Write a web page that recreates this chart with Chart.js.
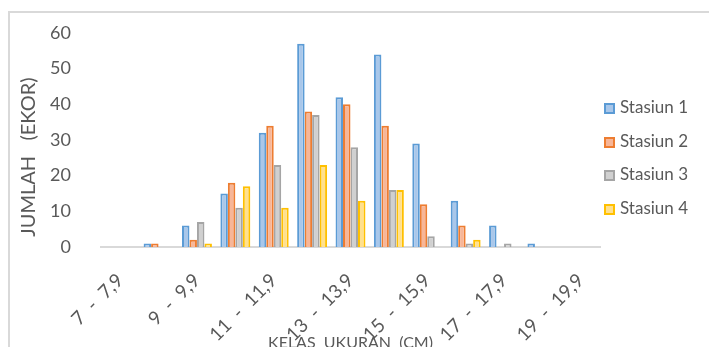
<!DOCTYPE html>
<html lang="id">
  <head>
    <meta charset="UTF-8" />
    <title>Kelas Ukuran</title>
    <script src="https://cdn.jsdelivr.net/npm/chart.js"></script>
    <style>
      body {
        margin: 0;
        background: #fff;
        font-family: Lato, "Open Sans", sans-serif;
      }
      #wrap {
        position: relative;
        width: 709px;
        height: 347px;
        overflow: hidden;
      }
      #frame {
        position: absolute;
        left: 8px;
        top: 11px;
        width: 720px;
        height: 360px;
        border-top: 2px solid #d9d9d9;
        border-left: 2px solid #d9d9d9;
      }
      #c {
        position: absolute;
        left: 0;
        top: 0;
      }
      .lg {
        position: absolute;
        left: 604px;
        height: 18px;
        line-height: 18px;
        font-size: 17px;
        color: #595959;
        white-space: nowrap;
      }
      .lg span {
        display: inline-block;
        width: 7px;
        height: 7px;
        border: 2px solid;
        margin-right: 5px;
        vertical-align: -1px;
      }
    </style>
  </head>
  <body>
    <div id="wrap">
      <div id="frame"></div>
      <canvas id="c" width="709" height="360"></canvas>
      <div id="legend"></div>
    </div>

    <script>
      const categories = [
        "7 - 7,9", "8 - 8,9", "9 - 9,9", "10 - 10,9", "11 - 11,9",
        "12 - 12,9", "13 - 13,9", "14 - 14,9", "15 - 15,9", "16 - 16,9",
        "17 - 17,9", "18 - 18,9", "19 - 19,9"
      ];
      const stasiun1 = [null, 1, 6, 15, 32, 57, 42, 54, 29, 13, 6, 1, null];
      const stasiun2 = [null, 1, 2, 18, 34, 38, 40, 34, 12, 6, null, null, null];
      const stasiun3 = [null, null, 7, 11, 23, 37, 28, 16, 3, 1, 1, null, null];
      const stasiun4 = [null, null, 1, 17, 11, 23, 13, 16, null, 2, null, null, null];
      const seriesNames = ["Stasiun 1", "Stasiun 2", "Stasiun 3", "Stasiun 4"];
      const yTicks = [0, 10, 20, 30, 40, 50, 60];

      const fills = ["#a9c7ea", "#f7b698", "#d0d0d0", "#ffe08e"];
      const edges = ["#5b9bd5", "#ed7d31", "#a5a5a5", "#ffc000"];
      const allValues = [stasiun1, stasiun2, stasiun3, stasiun4];

      const ctx = document.getElementById("c").getContext("2d");
      new Chart(ctx, {
        type: "bar",
        data: {
          labels: categories,
          datasets: allValues.map((vals, i) => ({
            label: seriesNames[i],
            data: vals,
            backgroundColor: fills[i],
            borderColor: edges[i],
            borderWidth: 2,
            categoryPercentage: 0.78,
            barPercentage: 1,
          })),
        },
        options: {
          responsive: false,
          animation: false,
          devicePixelRatio: 1,
          layout: { padding: { left: 0, right: 109, top: 33, bottom: 0 } },
          plugins: { legend: { display: false }, tooltip: { enabled: false } },
          scales: {
            x: {
              grid: { display: false },
              border: { display: true, color: "#d9d9d9", width: 2 },
              ticks: {
                autoSkip: false,
                minRotation: 45,
                maxRotation: 45,
                padding: 14,
                color: "#595959",
                font: { family: "Lato", size: 19 },
                callback: function (v, i) {
                  // wide spacing round the dash, as in the original
                  return i % 2 === 0 ? categories[i].replace(" - ", "  -  ") : "";
                },
              },
              title: {
                display: true,
                text: "KELAS  UKURAN  (CM)",
                color: "#595959",
                font: { family: "Lato", size: 16 },
                padding: { top: 0, bottom: 8 },
              },
              afterFit: function (s) {
                s.height = 113;
              },
            },
            y: {
              min: 0,
              max: 60,
              grid: { display: false },
              border: { display: false },
              afterBuildTicks: function (s) {
                s.ticks = yTicks.map((v) => ({ value: v }));
              },
              ticks: {
                padding: 22,
                color: "#595959",
                font: { family: "Lato", size: 18 },
              },
              title: {
                display: true,
                text: "  JUMLAH   (EKOR)",
                align: "start",
                color: "#595959",
                font: { family: "Lato", size: 20 },
                padding: { top: 17, bottom: 0 },
              },
              afterFit: function (s) {
                s.width = 101;
              },
            },
          },
        },
      });

      const legend = document.getElementById("legend");
      seriesNames.forEach((name, i) => {
        const item = document.createElement("div");
        item.className = "lg";
        item.style.top = 98 + i * 33.7 + "px";
        item.innerHTML =
          '<span style="background:' + fills[i] + ";border-color:" + edges[i] + '"></span>' + name;
        legend.appendChild(item);
      });
    </script>
  </body>
</html>
